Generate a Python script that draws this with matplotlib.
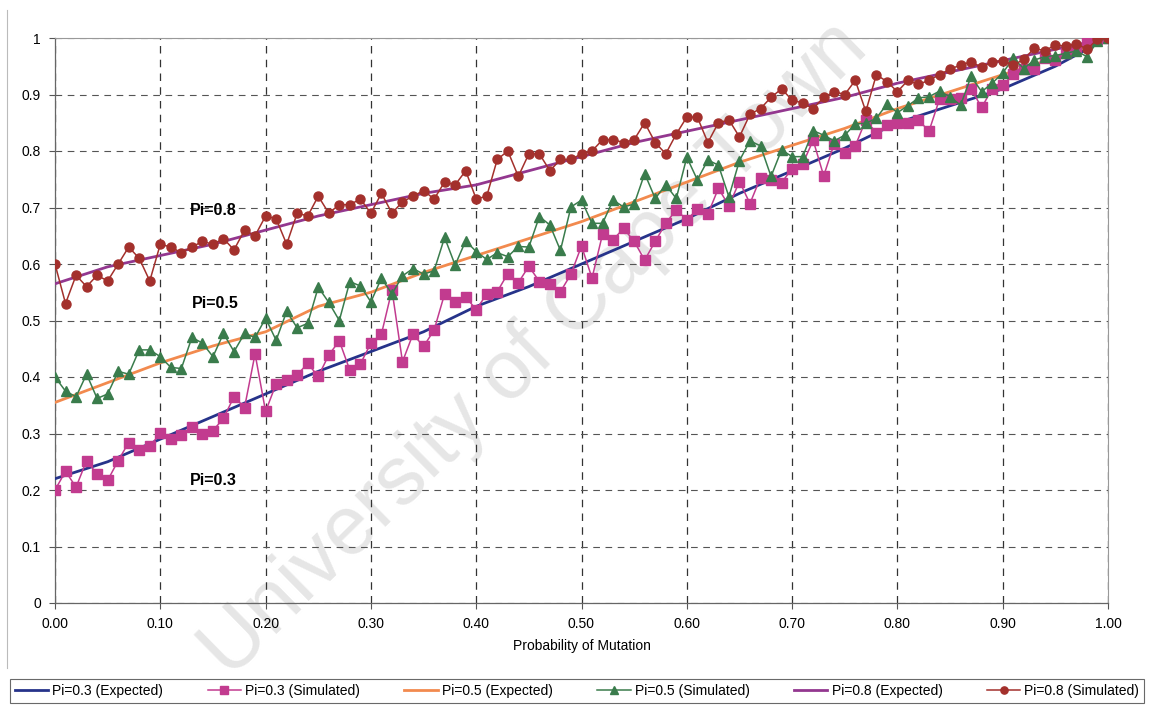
import numpy as np
import matplotlib
matplotlib.use("Agg")
import matplotlib.pyplot as plt
from matplotlib.lines import Line2D

plt.rcParams['font.family'] = ['Liberation Sans', 'DejaVu Sans']

# x values: probability of mutation 0.00 .. 1.00 step 0.01
x_sim = [round(i * 0.01, 2) for i in range(101)]

pi03_sim = [0.200, 0.233, 0.205, 0.252, 0.228, 0.217, 0.252, 0.284, 0.270, 0.277,
            0.301, 0.290, 0.298, 0.311, 0.300, 0.305, 0.327, 0.365, 0.346, 0.441,
            0.339, 0.388, 0.395, 0.404, 0.424, 0.401, 0.439, 0.464, 0.412, 0.423,
            0.460, 0.476, 0.554, 0.427, 0.476, 0.454, 0.483, 0.547, 0.533, 0.542,
            0.519, 0.547, 0.551, 0.583, 0.567, 0.596, 0.569, 0.565, 0.551, 0.582,
            0.632, 0.575, 0.653, 0.643, 0.663, 0.640, 0.607, 0.640, 0.672, 0.696,
            0.678, 0.697, 0.688, 0.734, 0.703, 0.746, 0.707, 0.753, 0.749, 0.744,
            0.769, 0.777, 0.819, 0.756, 0.813, 0.796, 0.809, 0.855, 0.832, 0.846,
            0.850, 0.850, 0.855, 0.835, 0.892, 0.892, 0.893, 0.910, 0.877, 0.910,
            0.916, 0.936, 0.945, 0.946, 0.964, 0.961, 0.973, 0.981, 0.994, 0.998,
            1.000]

pi05_sim = [0.400, 0.375, 0.365, 0.405, 0.362, 0.370, 0.410, 0.405, 0.448, 0.448,
            0.436, 0.417, 0.415, 0.470, 0.460, 0.436, 0.477, 0.445, 0.477, 0.470,
            0.504, 0.465, 0.516, 0.487, 0.495, 0.559, 0.532, 0.500, 0.569, 0.561,
            0.533, 0.575, 0.547, 0.579, 0.592, 0.582, 0.588, 0.647, 0.598, 0.641,
            0.622, 0.608, 0.620, 0.613, 0.631, 0.630, 0.684, 0.669, 0.624, 0.701,
            0.713, 0.672, 0.672, 0.713, 0.701, 0.706, 0.760, 0.716, 0.740, 0.716,
            0.789, 0.749, 0.784, 0.775, 0.719, 0.783, 0.818, 0.809, 0.755, 0.802,
            0.790, 0.790, 0.836, 0.828, 0.818, 0.828, 0.848, 0.849, 0.858, 0.883,
            0.868, 0.880, 0.894, 0.896, 0.906, 0.896, 0.881, 0.932, 0.905, 0.920,
            0.938, 0.964, 0.946, 0.961, 0.967, 0.969, 0.973, 0.977, 0.967, 0.994,
            1.000]

pi08_sim = [0.600, 0.530, 0.580, 0.560, 0.580, 0.570, 0.600, 0.630, 0.610, 0.570,
            0.635, 0.630, 0.620, 0.630, 0.640, 0.635, 0.645, 0.625, 0.660, 0.650,
            0.685, 0.680, 0.635, 0.690, 0.685, 0.720, 0.690, 0.705, 0.705, 0.715,
            0.690, 0.725, 0.690, 0.710, 0.720, 0.730, 0.715, 0.745, 0.740, 0.765,
            0.715, 0.720, 0.785, 0.800, 0.755, 0.795, 0.795, 0.765, 0.785, 0.785,
            0.795, 0.800, 0.820, 0.820, 0.815, 0.820, 0.850, 0.815, 0.795, 0.830,
            0.860, 0.860, 0.815, 0.850, 0.855, 0.825, 0.865, 0.875, 0.895, 0.910,
            0.890, 0.885, 0.875, 0.895, 0.905, 0.900, 0.925, 0.870, 0.935, 0.923,
            0.905, 0.925, 0.918, 0.925, 0.935, 0.945, 0.952, 0.958, 0.948, 0.958,
            0.960, 0.952, 0.962, 0.982, 0.977, 0.988, 0.985, 0.990, 0.980, 0.998,
            1.000]

# expected curves, read at 0.05 steps
x_exp = [round(i * 0.05, 2) for i in range(21)]
pi03_exp = [0.220, 0.250, 0.290, 0.330, 0.370, 0.410, 0.445, 0.480, 0.525, 0.560,
            0.600, 0.640, 0.680, 0.725, 0.765, 0.805, 0.850, 0.880, 0.910, 0.950, 1.000]
pi05_exp = [0.355, 0.390, 0.425, 0.455, 0.480, 0.525, 0.550, 0.585, 0.615, 0.645,
            0.675, 0.710, 0.745, 0.780, 0.810, 0.840, 0.875, 0.905, 0.935, 0.965, 1.000]
pi08_exp = [0.565, 0.595, 0.615, 0.635, 0.660, 0.685, 0.705, 0.725, 0.740, 0.765,
            0.790, 0.815, 0.835, 0.855, 0.875, 0.895, 0.920, 0.940, 0.960, 0.980, 1.000]

x_ticks = [round(i * 0.1, 1) for i in range(11)]
x_ticklabels = ["%.2f" % v for v in x_ticks]
y_ticks = [round(i * 0.1, 1) for i in range(11)]
y_ticklabels = ["0", "0.1", "0.2", "0.3", "0.4", "0.5", "0.6", "0.7", "0.8", "0.9", "1"]

c_blue = "#26338a"
c_mag = "#c23b8f"
c_orange = "#f28a4e"
c_green = "#3a7c4c"
c_purple = "#93378f"
c_red = "#a3302c"

W, H = 1151, 708
fig = plt.figure(figsize=(W / 100, H / 100), dpi=100)
fig.patch.set_facecolor("white")

# watermark
fig.text(535 / W, 1 - 350 / H, "University of Cape Town", rotation=44.5,
         ha="center", va="center", fontsize=60, color="#e6e6e6", zorder=-1)

ax = fig.add_axes([55 / W, 105 / H, 1053 / W, 565 / H])
ax.set_facecolor("none")

ax.plot(x_exp, pi03_exp, color=c_blue, lw=2.0, label="Pi=0.3 (Expected)", zorder=3)
ax.plot(x_sim, pi03_sim, color=c_mag, lw=1.1, marker="s", ms=6.5, mec=c_mag, mfc=c_mag,
        label="Pi=0.3 (Simulated)", zorder=4)
ax.plot(x_exp, pi05_exp, color=c_orange, lw=2.0, label="Pi=0.5 (Expected)", zorder=3)
ax.plot(x_sim, pi05_sim, color=c_green, lw=1.1, marker="^", ms=6.5, mec=c_green, mfc=c_green,
        label="Pi=0.5 (Simulated)", zorder=4)
ax.plot(x_exp, pi08_exp, color=c_purple, lw=2.0, label="Pi=0.8 (Expected)", zorder=3)
ax.plot(x_sim, pi08_sim, color=c_red, lw=1.1, marker="o", ms=6.5, mec=c_red, mfc=c_red,
        label="Pi=0.8 (Simulated)", zorder=4)

ax.set_xlim(0, 1)
ax.set_ylim(0, 1)
ax.set_xticks(x_ticks)
ax.set_xticklabels(x_ticklabels, fontsize=10)
ax.set_yticks(y_ticks)
ax.set_yticklabels(y_ticklabels, fontsize=10)
ax.tick_params(axis="both", direction="out", length=4, width=0.8, color="#555555", pad=6)
ax.grid(True, which="major", axis="y", color="#555555", ls=(0, (6, 5)), lw=0.8, zorder=1)
ax.grid(True, which="major", axis="x", color="#333333", ls=(0, (6, 5)), lw=0.9, zorder=1)
for s in ["top", "right"]:
    ax.spines[s].set_color("#999999")
    ax.spines[s].set_linewidth(0.8)
for s in ["left", "bottom"]:
    ax.spines[s].set_color("#666666")
    ax.spines[s].set_linewidth(0.9)

ax.set_xlabel("Probability of Mutation", fontsize=10, labelpad=6)

ax.text(0.128, 0.695, "Pi=0.8", fontsize=11.5, fontweight="bold", va="center", ha="left")
ax.text(0.130, 0.530, "Pi=0.5", fontsize=11.5, fontweight="bold", va="center", ha="left")
ax.text(0.128, 0.216, "Pi=0.3", fontsize=11.5, fontweight="bold", va="center", ha="left")

# outer frame line on left
fig.add_artist(Line2D([7 / W, 7 / W], [1 - 10 / H, 1 - 668 / H], color="#bbbbbb", lw=0.8))

leg = fig.legend(loc="center", bbox_to_anchor=(577 / W, 1 - 691 / H), ncol=6,
                 fontsize=10, frameon=True, fancybox=False, edgecolor="#444444",
                 handlelength=2.4, handletextpad=0.3, columnspacing=3.2,
                 borderpad=0.35, borderaxespad=0.0, markerscale=0.8)
leg.get_frame().set_linewidth(0.8)

fig.savefig("out.png", dpi=100)
